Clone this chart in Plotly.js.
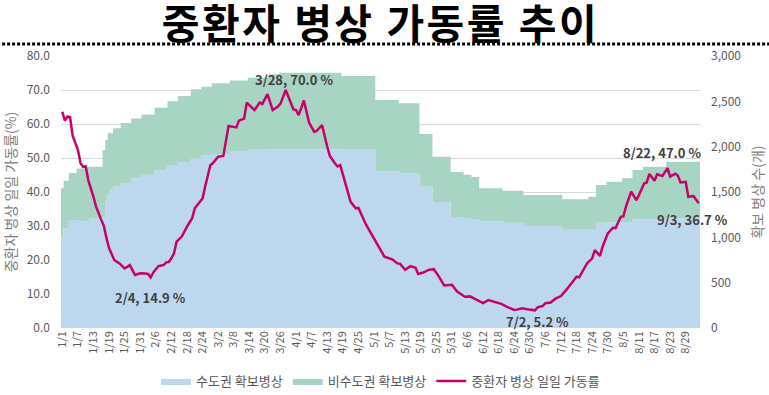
<!DOCTYPE html>
<html><head><meta charset="utf-8">
<script src="https://cdn.plot.ly/plotly-3.0.1.min.js"></script>
<style>html,body{margin:0;padding:0;background:#fff} .gtitle{letter-spacing:2.5px}</style>
</head><body><div id="chart" style="width:769px;height:395px"></div>
<script>
const YEAR = 2021;
const FONT = '"Noto Sans CJK KR", "Noto Sans", sans-serif';

const tickLabels = ['1/1','1/7','1/13','1/19','1/25','1/31','2/6','2/12','2/18','2/24','3/2','3/8','3/14','3/20','3/26','4/1','4/7','4/13','4/19','4/25','5/1','5/7','5/13','5/19','5/25','5/31','6/6','6/12','6/18','6/24','6/30','7/6','7/12','7/18','7/24','7/30','8/5','8/11','8/17','8/23','8/29'];

// secured beds: values hold from each date until the next date
const bedDates = ['1/1','1/2','1/4','1/7','1/9','1/11','1/12','1/17','1/18','1/19','1/20','1/21','1/24','1/28','2/1','2/6','2/11','2/15','2/20','2/24','2/28','3/7','3/14','3/22','3/26','4/19','5/2','5/11','5/19','5/24','5/31','6/5','6/8','6/11','6/20','6/28','7/13','7/23','7/26','7/30','8/5','8/9','8/13','8/22'];
const capitalBeds = [1000,1100,1190,1190,1175,1175,1210,1220,1400,1480,1530,1560,1600,1650,1690,1740,1790,1830,1870,1900,1920,1945,1965,1970,1970,1965,1730,1705,1558,1390,1225,1210,1195,1175,1160,1125,1085,1085,1160,1165,1170,1200,1200,1210];
const nonCapitalBeds = [540,525,520,570,585,604,569,743,673,670,620,642,660,660,665,690,710,730,762,760,780,785,795,830,845,815,785,775,582,500,495,480,470,365,355,342,335,363,417,449,481,543,579,624];
const lastDate = '9/3';

// ICU daily occupancy rate (%)
const rateDates = ['1/1','1/2','1/3','1/4','1/5','1/6','1/7','1/8','1/9','1/10','1/11','1/13','1/14','1/16','1/17','1/18','1/19','1/21','1/23','1/25','1/26','1/27','1/29','1/31','2/2','2/3','2/4','2/5','2/7','2/9','2/10','2/11','2/12','2/13','2/14','2/16','2/18','2/20','2/21','2/22','2/24','2/25','2/26','2/27','2/28','3/2','3/4','3/6','3/9','3/10','3/12','3/13','3/16','3/18','3/19','3/21','3/23','3/25','3/26','3/28','3/31','4/1','4/2','4/4','4/6','4/8','4/9','4/11','4/13','4/14','4/16','4/17','4/18','4/20','4/22','4/24','4/25','4/28','5/2','5/3','5/5','5/8','5/10','5/11','5/13','5/15','5/17','5/18','5/20','5/22','5/24','5/26','5/28','5/31','6/2','6/5','6/7','6/9','6/12','6/14','6/16','6/19','6/21','6/24','6/25','6/27','6/29','7/2','7/3','7/5','7/6','7/8','7/10','7/12','7/14','7/16','7/18','7/19','7/21','7/22','7/24','7/25','7/27','7/28','7/30','8/1','8/2','8/4','8/5','8/6','8/8','8/10','8/11','8/13','8/14','8/15','8/17','8/18','8/20','8/22','8/23','8/25','8/26','8/27','8/29','8/30','9/1','9/3'];
const rateValues = [63.6,61.0,62.2,62.0,56.5,54.5,52.5,48.5,47.4,47.5,43.5,38.6,35.7,31.8,30.0,26.5,23.5,20.0,19.0,17.5,18.0,18.5,15.6,16.1,16.0,15.9,14.9,16.3,18.2,18.5,19.3,19.4,20.5,22.0,25.4,26.9,29.8,32.3,35.2,36.1,38.1,41.6,45.0,47.9,48.5,50.4,50.6,59.4,59.0,61.0,61.6,66.3,64.1,66.3,65.9,68.8,64.1,65.1,66.0,70.0,64.3,64.1,62.6,66.9,60.4,57.7,58.0,59.7,53.3,50.6,48.4,47.5,47.9,42.6,37.1,35.2,35.3,30.3,25.0,23.8,21.0,20.2,19.0,18.9,17.1,18.2,17.7,15.9,16.3,17.1,17.3,15.1,12.5,12.7,10.7,9.2,9.3,8.5,7.3,8.2,7.8,7.1,6.3,5.3,5.4,5.8,5.5,5.2,6.1,6.5,7.3,7.5,8.7,9.4,11.2,13.1,15.1,14.9,17.5,19.0,20.5,22.9,21.2,23.9,27.8,29.5,29.4,32.7,32.8,35.7,40.1,37.6,39.1,42.5,42.8,45.3,43.3,45.2,44.7,47.0,44.5,45.4,44.8,42.8,43.0,38.6,38.8,36.7];

const labelDates = ['2/4','3/28','7/2','8/22','9/3'];
const labelValues = [14.9,70.0,5.2,47.0,36.7];

const HALF_DAY = 12 * 3600 * 1000;
function ms(md){ const p = md.split('/').map(Number); return Date.UTC(YEAR, p[0]-1, p[1]); }
function fmt(t){ return new Date(t).toISOString().slice(0,16).replace('T',' '); }

// step edges (bars are one day wide, centred on their date)
const stepX = bedDates.map(d => fmt(ms(d) - HALF_DAY)).concat([fmt(ms(lastDate) + HALF_DAY)]);
const capY = capitalBeds.concat([capitalBeds[capitalBeds.length-1]]);
const nonY = nonCapitalBeds.concat([nonCapitalBeds[nonCapitalBeds.length-1]]);
const totalY = capY.map((v,i) => v + nonY[i]);

const traces = [
  {type:'scatter', mode:'lines', name:'수도권 확보병상', x:stepX, y:capY,
   line:{shape:'hv', width:0, color:'#BDD7EE'}, fill:'tozeroy', fillcolor:'#BDD7EE',
   yaxis:'y', hoverinfo:'skip'},
  {type:'scatter', mode:'lines', name:'비수도권 확보병상', x:stepX, y:totalY,
   customdata:nonY,
   line:{shape:'hv', width:0, color:'#A8D5C3'}, fill:'tonexty', fillcolor:'#A8D5C3',
   yaxis:'y', hoverinfo:'skip'},
  {type:'scatter', mode:'lines', name:'중환자 병상 일일 가동률',
   x:rateDates.map(d => fmt(ms(d))), y:rateValues,
   line:{color:'#C8006A', width:2.5}, yaxis:'y2'}
];

const labelShift = [[0,-20],[8,11],[2,-11],[-6,16],[-6,-16]];
const annotations = labelDates.map((d,i) => ({
  x: fmt(ms(d)), y: labelValues[i], xref:'x', yref:'y2',
  text: d + ', ' + labelValues[i].toFixed(1) + ' %',
  showarrow:false, xshift:labelShift[i][0], yshift:labelShift[i][1],
  font:{family:FONT, size:13, color:'#404040', weight:'bold'}
}));

const layout = {
  width:769, height:395,
  margin:{l:61, r:69, t:56, b:67, autoexpand:false},
  paper_bgcolor:'#ffffff', plot_bgcolor:'#ffffff',
  font:{family:FONT, color:'#595959'},
  title:{text:'중환자 병상 가동률 추이', x:0.5, xanchor:'center', xref:'paper',
         y:0.937, yanchor:'middle', yref:'container', automargin:false,
         font:{family:FONT, size:41, color:'#000000', weight:'bold'}},
  xaxis:{type:'date', range:[fmt(ms('1/1') - HALF_DAY), fmt(ms(lastDate) + HALF_DAY)],
         tickmode:'array', tickvals:tickLabels.map(d => fmt(ms(d))), ticktext:tickLabels,
         tickangle:-90, tickfont:{size:11, color:'#595959'}, showgrid:false, zeroline:false,
         showline:false, ticks:'', automargin:false},
  yaxis:{side:'right', range:[0,3000], tickmode:'linear', tick0:0, dtick:500, tickformat:',',
         showgrid:false, zeroline:false, showline:false, ticks:'', automargin:false,
         tickfont:{size:12, color:'#595959'}, ticklabelstandoff:10,
         title:{text:'확보 병상 수(개)', font:{size:14, color:'#808080'}, standoff:12}},
  yaxis2:{overlaying:'y', side:'left', range:[0,80], tickmode:'linear', tick0:0, dtick:10,
          tickformat:'.1f', showgrid:true, gridcolor:'#D9D9D9', gridwidth:1, zeroline:false,
          showline:false, ticks:'', automargin:false,
          tickfont:{size:12, color:'#595959'}, ticklabelstandoff:10,
          title:{text:'중환자 병상 일일 가동률(%)', font:{size:14, color:'#808080'}, standoff:8}},
  legend:{orientation:'h', x:0.5, xanchor:'center', xref:'paper', y:0.035, yanchor:'middle', yref:'container',
          font:{size:13, color:'#595959'}, traceorder:'normal', itemwidth:30},
  showlegend:true,
  annotations: annotations,
  shapes:[{type:'line', xref:'paper', yref:'paper', x0:-0.1, x1:1.12, y0:1.044, y1:1.044,
           line:{color:'#000000', width:3, dash:'3px,2px'}}]
};

Plotly.newPlot('chart', traces, layout, {displayModeBar:false, staticPlot:true});
</script>
</body></html>
